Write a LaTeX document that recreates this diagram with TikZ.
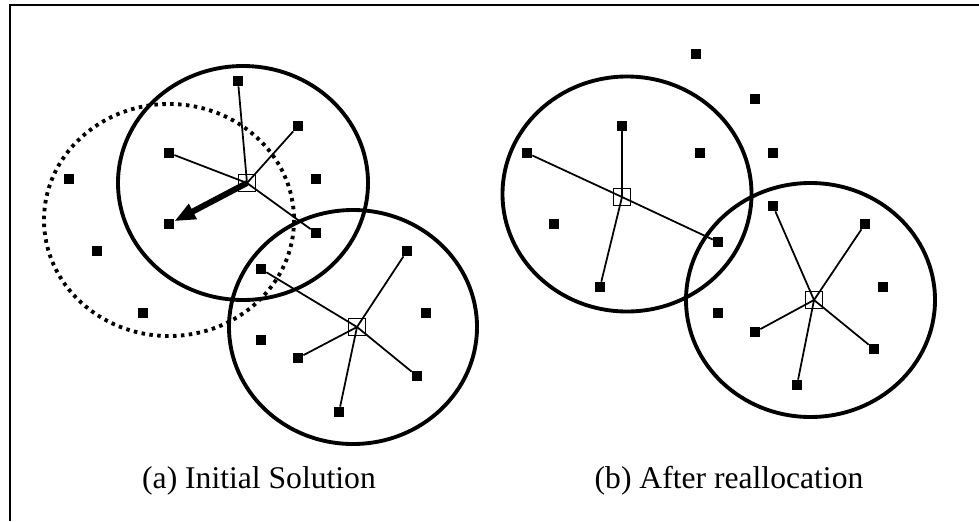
\documentclass[tikz,border=0pt]{standalone}
\usepackage{fontspec}
\setmainfont{Liberation Serif}
\usetikzlibrary{arrows.meta}

\begin{document}
\begin{tikzpicture}[x=.02cm, y=-.02cm,
  customer/.style={fill=black, inner sep=0, minimum size=.2cm},
  depot/.style={draw=black, line width=.75pt, inner sep=0, minimum size=.35cm},
  zone/.style={line width=2.2pt},
  link/.style={line width=1pt},
  move/.style={line width=3.4pt, -{Triangle[length=.42cm, width=.32cm]}},
  caption/.style={anchor=base, font=\fontsize{18}{22}\selectfont}]

\useasboundingbox (0,0) rectangle (979,521);
\draw[line width=1.7pt] (10,521) -- (10,5) -- (979,5);

% (a) initial solution
\draw[zone] (243,183) ellipse [x radius=125, y radius=117];
\draw[zone, dash pattern=on 2pt off 2.5pt] (169,220) ellipse [x radius=125, y radius=116];
\draw[zone] (353,327) ellipse [x radius=124, y radius=117];

\node[depot] (a1) at (247,183) {};
\node[depot] (a2) at (357,327) {};
\foreach \n/\x/\y in {p1/238/81, p2/298/126, p3/169/153, p4/69/179, p5/316/179,
    p6/169/224, p7/316/233, p8/97/251, p9/261/269, p10/407/251, p11/143/313,
    p12/426/313, p13/261/340, p14/298/358, p15/417/376, p16/339/412}
  \node[customer] (\n) at (\x,\y) {};

\foreach \n in {p1, p2, p3, p7}
  \draw[link] (a1.center) -- (\n);
\foreach \n in {p9, p10, p14, p15, p16}
  \draw[link] (a2.center) -- (\n);
\draw[move] (a1.center) -- (p6);

% (b) after reallocation
\draw[zone] (627,194) ellipse [x radius=124.5, y radius=117.5];
\draw[zone] (810.5,300) ellipse [x radius=124.5, y radius=117];

\node[depot] (b1) at (622,197) {};
\node[depot] (b2) at (814,300) {};
\foreach \n/\x/\y in {q1/696/54, q2/755/99, q3/622/126, q4/527/153, q5/700/153,
    q6/773/153, q7/554/224, q8/718/242, q9/600/287, q10/773/206, q11/865/224,
    q12/883/287, q13/718/313, q14/755/332, q15/874/349, q16/797/385}
  \node[customer] (\n) at (\x,\y) {};

\foreach \n in {q3, q4, q8, q9}
  \draw[link] (b1.center) -- (\n);
\foreach \n in {q10, q11, q14, q15, q16}
  \draw[link] (b2.center) -- (\n);

\node[caption] (capa) at (259,488) {(a) Initial Solution};
\node[caption] (capb) at (729,488) {(b) After reallocation};

\end{tikzpicture}
\end{document}
